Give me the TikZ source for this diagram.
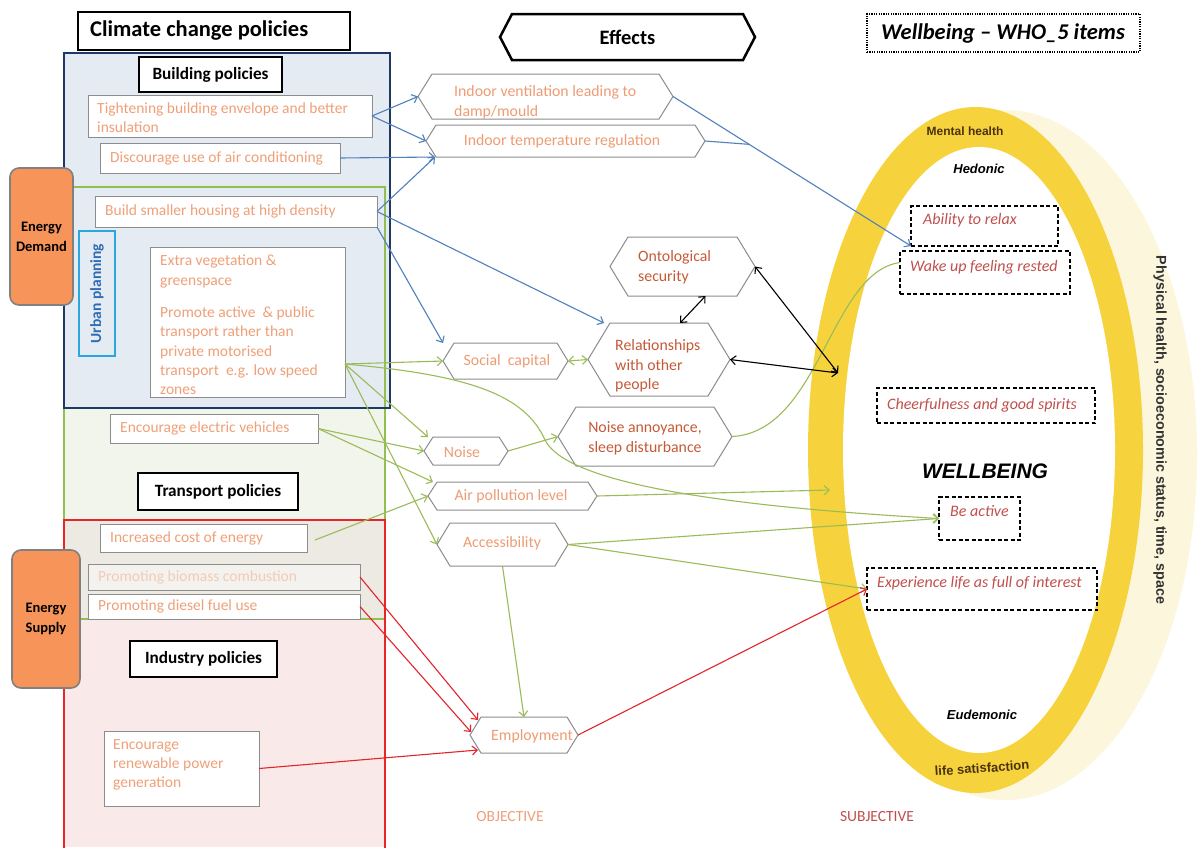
\documentclass[tikz,border=0pt]{standalone}
\usepackage{fontspec}
\setmainfont{Carlito}
\newfontfamily\arialf{Liberation Sans}
\usetikzlibrary{arrows.meta,calc,fit}
\definecolor{ptxt}{HTML}{EFA078}
\definecolor{ptxtl}{HTML}{F3CBB3}
\definecolor{etxt}{HTML}{EE9C74}
\definecolor{dtxt}{HTML}{C65A38}
\definecolor{wtxt}{HTML}{C0504D}
\definecolor{bluel}{HTML}{4F81BD}
\definecolor{greenl}{HTML}{9BBB59}
\definecolor{redl}{HTML}{E3242B}
\definecolor{navy}{HTML}{1F3864}
\definecolor{bfill}{HTML}{E5EBF2}
\definecolor{gfill}{HTML}{F2F5EB}
\definecolor{ofill}{HTML}{EDEAE3}
\definecolor{rfill}{HTML}{F9E9E9}
\definecolor{gborder}{HTML}{92C050}
\definecolor{rborder}{HTML}{E8262A}
\definecolor{orangeb}{HTML}{F7945A}
\definecolor{cyanb}{HTML}{2AA7DF}
\definecolor{upl}{HTML}{2E6DB4}
\definecolor{ringc}{HTML}{F6D33C}
\definecolor{shadowc}{HTML}{FCF6DC}
\definecolor{greyb}{HTML}{8C8C8C}
\definecolor{ringtxt}{HTML}{4A3210}
\newcommand{\myfs}[2]{\fontsize{#1}{#2}\selectfont}
\newcommand{\hexshape}[3]{%
  \draw[#3] (#1.west) -- ($(#1.north west)+(#2,0)$) -- ($(#1.north east)+(-#2,0)$) -- (#1.east) -- ($(#1.south east)+(-#2,0)$) -- ($(#1.south west)+(#2,0)$) -- cycle;}
\begin{document}
\begin{tikzpicture}[x=1pt,y=-1pt,
  fitbox/.style={inner sep=0pt, outer sep=0pt},
  pbox/.style={fitbox, draw=greyb, line width=1pt, fill=white},
  ptext/.style={font=\myfs{15.5}{19}, text=ptxt, align=left, inner sep=0pt, anchor=west},
  etext/.style={font=\myfs{15.8}{20}, text=etxt, align=center, inner sep=0pt},
  dtext/.style={font=\myfs{15.8}{19.5}, text=dtxt, align=left, inner sep=0pt, anchor=west},
  hexline/.style={draw=greyb, line width=1pt, fill=white},
  hdbox/.style={fitbox, draw=black, line width=1.8pt, fill=white},
  htext/.style={font=\bfseries\myfs{17.2}{20}, inner sep=0pt},
  dbox/.style={fitbox, draw=black, line width=1.3pt, dash pattern=on 4pt off 2.5pt},
  wtext/.style={font=\itshape\myfs{16}{18}, text=wtxt, inner sep=0pt, anchor=west},
  ringlab/.style={font=\arialf\bfseries\myfs{12}{14}, text=ringtxt, inner sep=0pt},
  tipa/.style={-{Straight Barb[length=5pt,width=9pt]}},
  tipb/.style={{Straight Barb[length=5pt,width=9pt]}-{Straight Barb[length=5pt,width=9pt]}},
  bline/.style={draw=bluel, line width=1.1pt},
  bcon/.style={bline, tipa},
  gline/.style={draw=greenl, line width=1.1pt},
  gcon/.style={gline, tipa},
  gdbl/.style={gline, tipb},
  rcon/.style={draw=redl, line width=1.1pt, tipa},
  kdbl/.style={draw=black, line width=1.1pt, tipb}
]
\useasboundingbox (0,0) rectangle (1198,847);
\fill[white] (0,0) rectangle (1198,847);

% ---------- wellbeing ring ----------
\fill[shadowc] (1005,455) ellipse [x radius=192pt, y radius=345pt];
\fill[ringc] (975.5,450) ellipse [x radius=167.5pt, y radius=343pt];
\fill[white] (979,450) ellipse [x radius=136pt, y radius=303pt];
\coordinate (ringpt) at (838,373);
\coordinate (airend) at (830,490);

% ---------- policy areas ----------
\fill[rfill] (64,520) rectangle (385,847);
\fill[ofill] (64,520) rectangle (385,619);
\fill[gfill] (64,408) rectangle (385,520);
\fill[bfill] (64,53) rectangle (390,408);
\draw[gborder, line width=1.5pt] (64,187) rectangle (385,619);
\draw[rborder, line width=2pt] (64,852) -- (64,520) -- (385,520) -- (385,852);
\draw[navy, line width=2pt] (64,53) rectangle (390,408);

\node[fitbox, fit={(78,12) (350,50)}, draw=black, line width=2.5pt, fill=white] (cc) {};
\node[font=\bfseries\myfs{22.5}{26}, inner sep=0pt, anchor=west] (ccT) at (90,31) {Climate change policies};
\node[hdbox, fit={(139,57) (282,92)}] (bp) {};
\node[htext] (bpT) at (bp.center) {Building policies};

\node[pbox, fit={(88,95) (372,137)}] (tight) {};
\node[ptext] (tightT) at (97,118) {Tightening building envelope and better\\insulation};
\node[pbox, fit={(100,143) (340,173)}] (disc) {};
\node[ptext] (discT) at (110,158) {Discourage use of air conditioning};
\node[pbox, fit={(95,196) (377,227)}] (build) {};
\node[ptext] (buildT) at (105,211.5) {Build smaller housing at high density};
\node[fitbox, fit={(79,231) (115,356)}, draw=cyanb, line width=1.8pt] (urb) {};
\node[font=\bfseries\myfs{15.5}{17}, text=upl, rotate=90, inner sep=0pt] (urbT) at (urb.center) {Urban planning};
\node[pbox, fit={(150,247) (345,397)}] (veg) {};
\node[ptext, font=\myfs{15.5}{19.3}, anchor=north west] (vegT) at (160,255) {Extra vegetation \&\\greenspace\\[13pt]Promote active \ \& public\\transport rather than\\private motorised\\transport \ e.g. low speed\\zones};
\node[pbox, fit={(110,414) (318,443)}] (elec) {};
\node[ptext] (elecT) at (120,428.5) {Encourage electric vehicles};
\node[hdbox, fit={(138,473) (298,510)}] (tp) {};
\node[htext] (tpT) at (tp.center) {Transport policies};
\node[pbox, fit={(100,524) (307,552)}] (cost) {};
\node[ptext] (costT) at (110,538) {Increased cost of energy};
\node[pbox, fit={(88,564) (360,590)}, fill=ofill!60!white] (bio) {};
\node[ptext, text=ptxtl] (bioT) at (98,577) {Promoting biomass combustion};
\node[pbox, fit={(88,594) (360,619)}] (dies) {};
\node[ptext] (diesT) at (98,606.5) {Promoting diesel fuel use};
\node[hdbox, fit={(130,641) (277,677)}] (ip) {};
\node[htext] (ipT) at (ip.center) {Industry policies};
\node[pbox, fit={(104,731) (259,806)}] (renew) {};
\node[ptext, font=\myfs{15.5}{19}, anchor=north west] (renewT) at (113,739) {Encourage\\renewable power\\generation};

\node[fitbox, fit={(10,168) (73,305)}, draw=gray, line width=1.6pt, fill=orangeb, rounded corners=9pt] (ed) {};
\node[font=\bfseries\myfs{14.5}{20}, align=center, inner sep=0pt] (edT) at (ed.center) {Energy\\Demand};
\node[fitbox, fit={(12,550) (80,688)}, draw=gray, line width=1.6pt, fill=orangeb, rounded corners=9pt] (es) {};
\node[font=\bfseries\myfs{14.5}{20}, align=center, inner sep=0pt] (esT) at (es.center) {Energy\\Supply};

% ---------- effects ----------
\node[fitbox, fit={(500,14) (755,60)}] (eff) {};
\hexshape{eff}{12}{draw=black, line width=2.5pt, fill=white}
\node[font=\bfseries\myfs{20.5}{24}, inner sep=0pt] (effT) at (eff.center) {Effects};

\node[fitbox, fit={(418,74) (673,119)}] (vent) {};
\hexshape{vent}{14}{hexline}
\node[etext, align=left, anchor=west] (ventT) at (454,102) {Indoor ventilation leading to\\damp/mould};
\node[fitbox, fit={(426,125) (705,157)}] (temp) {};
\hexshape{temp}{10}{hexline}
\node[etext] (tempT) at (562,141) {Indoor temperature regulation};
\node[fitbox, fit={(610,237) (755,296)}] (onto) {};
\hexshape{onto}{18}{hexline}
\node[dtext] (ontoT) at (638,267.5) {Ontological\\security};
\node[fitbox, fit={(588,323) (730,396)}] (rel) {};
\hexshape{rel}{22}{hexline}
\node[dtext] (relT) at (615,366) {Relationships\\with other\\people};
\node[fitbox, fit={(443,343) (568,379)}] (soc) {};
\hexshape{soc}{11}{hexline}
\node[etext] (socT) at (507,361) {Social \ capital};
\node[fitbox, fit={(558,407) (732,466)}] (nann) {};
\hexshape{nann}{18}{hexline}
\node[dtext, align=center, anchor=center, font=\myfs{15.8}{20}] (nannT) at (645,438) {Noise annoyance,\\sleep disturbance};
\node[fitbox, fit={(424,437) (508,465)}] (noise) {};
\hexshape{noise}{9}{hexline}
\node[etext] (noiseT) at (462,452) {Noise};
\node[fitbox, fit={(428,482) (597,510)}] (air) {};
\hexshape{air}{9}{hexline}
\node[etext] (airT) at (511,496.5) {Air pollution level};
\node[fitbox, fit={(437,523) (568,566)}] (acc) {};
\hexshape{acc}{13}{hexline}
\node[etext] (accT) at (502,543) {Accessibility};
\node[fitbox, fit={(470,717) (578,753)}] (emp) {};
\hexshape{emp}{11}{hexline}
\node[etext] (empT) at (532,736) {Employment};

\node[font=\myfs{15.5}{17}, text=ptxt, inner sep=0pt] (objT) at (510,817) {OBJECTIVE};
\node[font=\myfs{15.5}{17}, text=wtxt, inner sep=0pt] (subT) at (877,817) {SUBJECTIVE};

% ---------- wellbeing ----------
\node[fitbox, fit={(867,14) (1140,52)}, draw=black, line width=1.2pt, dash pattern=on 1.2pt off 1.2pt] (who) {};
\node[font=\bfseries\itshape\myfs{22.5}{26}, inner sep=0pt] (whoT) at (1003,33) {Wellbeing -- WHO\_5 items};

\node[ringlab] (mhT) at (965,131) {Mental health};
\node[ringlab, font=\arialf\bfseries\itshape\myfs{13}{15}, text=black] (hedT) at (979,169) {Hedonic};
\node[ringlab, font=\arialf\bfseries\itshape\myfs{13}{15}, text=black] (eudT) at (982,715) {Eudemonic};
\node[ringlab, font=\arialf\bfseries\myfs{13}{15}, rotate=4] (lsT) at (982,768) {life satisfaction};
\node[ringlab, font=\arialf\bfseries\myfs{21}{24}, text=black] (wbT) at (985,471) {\itshape WELLBEING};
\node[ringlab, font=\arialf\bfseries\myfs{14.3}{16}, text=black!80, rotate=-90] (phT) at (1160,430) {Physical health, socioeconomic status, time, space};

\node[dbox, fit={(911,206) (1058,246)}] (relax) {};
\node[wtext] (relaxT) at (923,220) {Ability to relax};
\node[dbox, fit={(900,251) (1070,294)}] (wake) {};
\node[wtext] (wakeT) at (910,267) {Wake up feeling rested};
\node[dbox, fit={(877,388) (1095,423)}] (cheer) {};
\node[wtext] (cheerT) at (887,405) {Cheerfulness and good spirits};
\node[dbox, fit={(939,497) (1020,540)}] (active) {};
\node[wtext] (activeT) at (950,511) {Be active};
\node[dbox, fit={(867,568) (1097,610)}] (exp) {};
\node[wtext] (expT) at (877,583) {Experience life as full of interest};

% ---------- connectors: blue ----------
\draw[bcon] (tight.east) -- (vent.west);
\draw[bcon] (tight.east) -- (temp.west);
\draw[bcon] (disc.east) -- ($(temp.south west)+(9,0)$);
\draw[bcon] (build.east) -- ($(temp.south west)+(9,0)$);
\draw[bcon] (build.east) -- ($(rel.north west)+(16,0)$);
\draw[bcon] (build.south east) -- (soc.north west);
\draw[bcon] (vent.east) -- (relax.south west);
\draw[bline] (temp.east) -- ($(vent.east)!0.32!(relax.south west)$);

% ---------- connectors: green ----------
\coordinate (pa) at ($(veg.east)+(0,42)$);
\draw[gcon] (pa) -- (soc.west);
\draw[gcon] (pa) -- ($(noise.north west)+(4,0)$);
\draw[gcon] (pa) -- (acc.west);
\draw[gcon] (pa) .. controls (470,375) and (525,395) .. (545,440) .. controls (565,480) and (700,505) .. (active.west);
\draw[gcon] (elec.east) -- (noise.west);
\draw[gcon] (elec.east) -- ($(air.north west)+(5,0)$);
\draw[gcon] ($(cost.east)+(8,2)$) -- (air.west);
\draw[gcon] (noise.east) -- (nann.west);
\draw[gline] (nann.east) .. controls (820,432) and (830,272) .. ($(wake.west)+(0,-10)$);
\draw[gcon] (air.east) -- (airend);
\draw[gcon] (acc.east) -- (active.west);
\draw[gcon] (acc.east) -- (exp.west);
\draw[gcon] (acc.south) -- (emp.north);
\draw[gdbl] (soc.east) -- (rel.west);

% ---------- connectors: red ----------
\draw[rcon] (bio.east) -- ($(emp.north west)+(8,3)$);
\draw[rcon] (dies.east) -- ($(emp.west)+(1,-3)$);
\draw[rcon] (renew.east) -- ($(emp.south west)+(8,-3)$);
\draw[rcon] (emp.east) -- (exp.west);

% ---------- connectors: black ----------
\draw[kdbl] ($(rel.north)+(21,0)$) -- ($(onto.south)+(23,0)$);
\draw[kdbl] (onto.east) -- (ringpt);
\draw[kdbl] (rel.east) -- (ringpt);
\end{tikzpicture}
\end{document}
